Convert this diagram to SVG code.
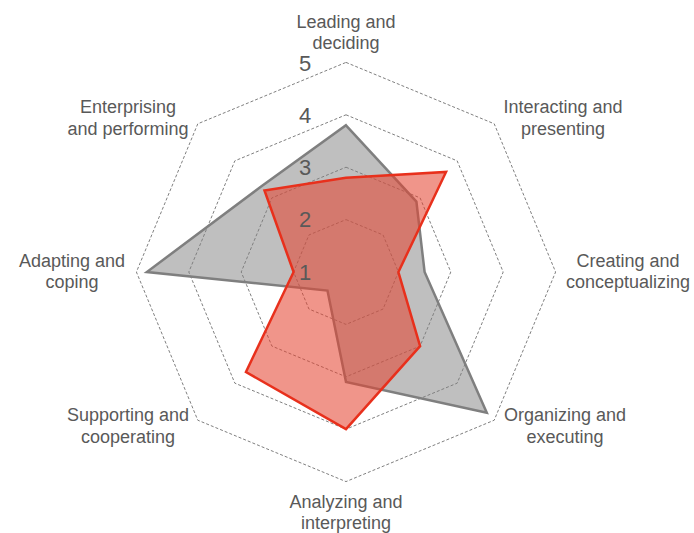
<svg xmlns="http://www.w3.org/2000/svg" width="694" height="533" viewBox="0 0 694 533">
<style>
.grid{fill:none;stroke:#7f7f7f;stroke-width:1;stroke-dasharray:3 2}
.lbl{font-family:"Liberation Sans",Arial,sans-serif;font-size:18px;fill:#595959;text-anchor:middle}
.num{font-family:"Liberation Sans",Arial,sans-serif;font-size:22px;fill:#595959;text-anchor:middle}
.s1{fill:#7f7f7f;fill-opacity:0.5;stroke:#7f7f7f;stroke-width:2.5;stroke-linejoin:miter}
.s2{fill:#e4422f;fill-opacity:0.56;stroke:#e8301c;stroke-width:2.5;stroke-linejoin:miter}
</style>
<rect width="694" height="533" fill="#ffffff"/>
<g id="grid">
<polygon class="grid" points="346,219.6 383.05,234.95 398.4,272 383.05,309.05 346,324.4 308.95,309.05 293.6,272 308.95,234.95"/>
<polygon class="grid" points="346,167.2 420.1,197.9 450.8,272 420.1,346.1 346,376.8 271.9,346.1 241.2,272 271.9,197.9"/>
<polygon class="grid" points="346,114.8 457.16,160.84 503.2,272 457.16,383.16 346,429.2 234.84,383.16 188.8,272 234.84,160.84"/>
<polygon class="grid" points="346,62.4 494.21,123.79 555.6,272 494.21,420.21 346,481.6 197.79,420.21 136.4,272 197.79,123.79"/>
</g>
<g id="series">
<polygon id="series-gray" class="s1" points="346,125.28 416.4,201.6 424.6,272 486.8,412.8 346,382.04 327.47,290.53 146.88,272 260.78,186.78"/>
<polygon id="series-red" class="s2" points="346,177.68 446.04,171.96 398.4,272 420.1,346.1 346,429.2 245.96,372.04 293.6,272 264.48,190.48"/>
</g>
<g id="scale">
<text class="num" x="305" y="71">5</text>
<text class="num" x="305" y="123">4</text>
<text class="num" x="305" y="175">3</text>
<text class="num" x="305" y="227">2</text>
<text class="num" x="305" y="280">1</text>
</g>
<g id="axis-labels">
<g id="lbl-leading"><text class="lbl" x="346" y="28">Leading and</text><text class="lbl" x="346" y="49">deciding</text></g>
<g id="lbl-interacting"><text class="lbl" x="563" y="113">Interacting and</text><text class="lbl" x="563" y="135">presenting</text></g>
<g id="lbl-creating"><text class="lbl" x="628" y="267">Creating and</text><text class="lbl" x="628" y="288">conceptualizing</text></g>
<g id="lbl-organizing"><text class="lbl" x="565" y="421">Organizing and</text><text class="lbl" x="565" y="443">executing</text></g>
<g id="lbl-analyzing"><text class="lbl" x="346" y="508">Analyzing and</text><text class="lbl" x="346" y="529">interpreting</text></g>
<g id="lbl-supporting"><text class="lbl" x="128" y="421">Supporting and</text><text class="lbl" x="128" y="443">cooperating</text></g>
<g id="lbl-adapting"><text class="lbl" x="72" y="267">Adapting and</text><text class="lbl" x="72" y="288">coping</text></g>
<g id="lbl-enterprising"><text class="lbl" x="128" y="113">Enterprising</text><text class="lbl" x="128" y="135">and performing</text></g>
</g>
</svg>
